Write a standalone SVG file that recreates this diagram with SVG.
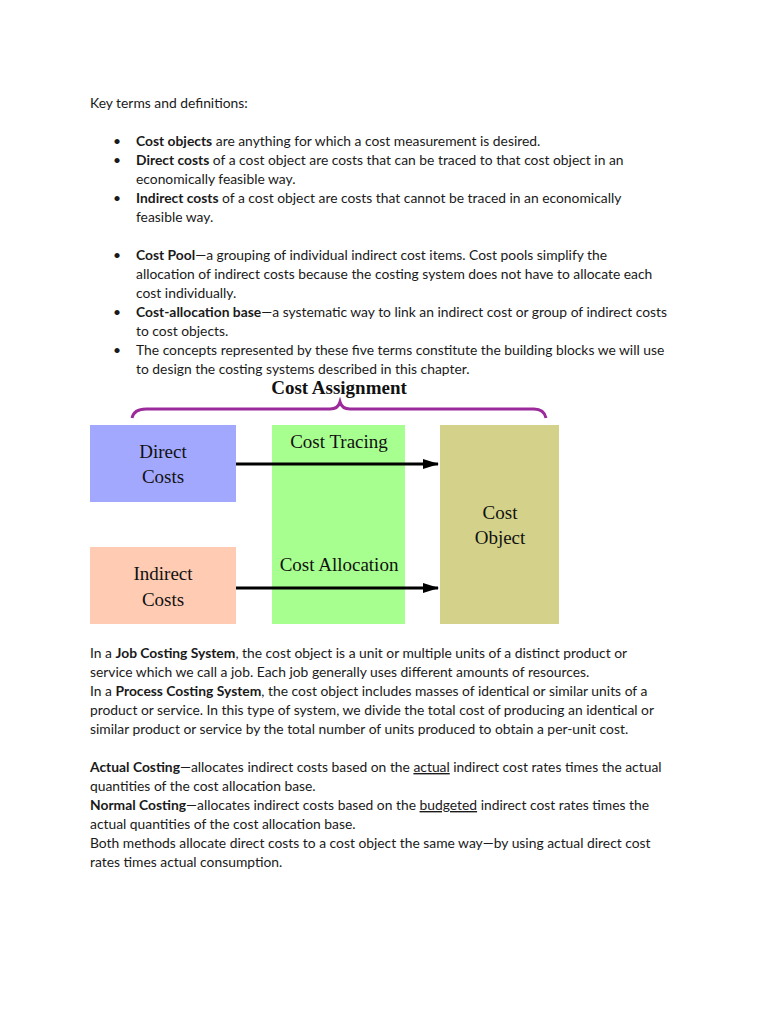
<svg xmlns="http://www.w3.org/2000/svg" width="768" height="1024" viewBox="0 0 768 1024" xml:space="preserve">
<style>
text{font-family:Lato,"Open Sans",sans-serif;font-size:13.85px;fill:#1a1a1a}
.b{font-weight:bold}
.d{font-family:"Liberation Serif",serif;font-size:19px;fill:#111}
.t{font-weight:bold}
.u{text-decoration:underline}
</style>
<defs><marker id="ah" markerWidth="16" markerHeight="10" refX="15" refY="5" orient="auto" markerUnits="userSpaceOnUse" viewBox="0 0 16 10"><path d="M0,0 L16,5 L0,10 Z" fill="#000"/></marker></defs>
<rect width="768" height="1024" fill="#fff"/>
<text x="90" y="108">Key terms and definitions:</text>
<g>
<text x="113" y="146">•</text><text x="136" y="146"><tspan class="b">Cost objects</tspan> are anything for which a cost measurement is desired.</text>
<text x="113" y="165">•</text><text x="136" y="165"><tspan class="b">Direct costs</tspan> of a cost object are costs that can be traced to that cost object in an</text>
<text x="136" y="184">economically feasible way.</text>
<text x="113" y="203">•</text><text x="136" y="203"><tspan class="b">Indirect costs</tspan> of a cost object are costs that cannot be traced in an economically</text>
<text x="136" y="222">feasible way.</text>
<text x="113" y="260">•</text><text x="136" y="260"><tspan class="b">Cost  Pool</tspan>—a grouping of individual indirect cost items.  Cost pools simplify the</text>
<text x="136" y="279">allocation of indirect costs because the costing system does not have to allocate each</text>
<text x="136" y="298">cost individually.</text>
<text x="113" y="317">•</text><text x="136" y="317"><tspan class="b">Cost-allocation base</tspan>—a systematic way to link an indirect cost or group of indirect costs</text>
<text x="136" y="336">to cost objects.</text>
<text x="113" y="355">•</text><text x="136" y="355">The concepts represented by these five terms constitute the building blocks we will use</text>
<text x="136" y="374">to design the costing systems described in this chapter.</text>
</g>
<text class="d t" x="339" y="394" text-anchor="middle">Cost Assignment</text>
<path d="M132,418 Q134,409 146,409 L330,409 Q338,409 340,402 Q342,409 350,409 L534,409 Q544,409 546,418" fill="none" stroke="#9b2a9b" stroke-width="3"/>
<g id="direct"><rect x="90" y="425" width="146" height="77" fill="#a3a8ff"/><text class="d" x="163" y="458" text-anchor="middle">Direct</text><text class="d" x="163" y="483" text-anchor="middle">Costs</text></g>
<g id="indirect"><rect x="90" y="547" width="146" height="77" fill="#ffcbb3"/><text class="d" x="163" y="580" text-anchor="middle">Indirect</text><text class="d" x="163" y="606" text-anchor="middle">Costs</text></g>
<g id="middle"><rect x="272" y="425" width="133" height="199" fill="#a7ff8f"/><text class="d" x="339" y="448" text-anchor="middle">Cost Tracing</text><text class="d" x="339" y="571" text-anchor="middle">Cost Allocation</text></g>
<g id="object"><rect x="440" y="425" width="119" height="199" fill="#d4d28a"/><text class="d" x="500" y="519" text-anchor="middle">Cost</text><text class="d" x="500" y="544" text-anchor="middle">Object</text></g>
<g id="connectors" stroke="#000" stroke-width="3">
<line x1="236" y1="464" x2="438" y2="464" marker-end="url(#ah)"/>
<line x1="236" y1="588" x2="438" y2="588" marker-end="url(#ah)"/>
</g>
<text x="90" y="658">In a <tspan class="b">Job Costing System</tspan>, the cost object is a unit or multiple units of a distinct product or</text>
<text x="90" y="677">service which we call a job.  Each job generally uses different amounts of resources.</text>
<text x="90" y="696">In a <tspan class="b">Process Costing System</tspan>, the cost object includes masses of identical or similar units of a</text>
<text x="90" y="715">product or service.  In this type of system, we divide the total cost of producing an identical or</text>
<text x="90" y="734">similar product or service by the total number of units produced to obtain a per-unit cost.</text>
<text x="90" y="772"><tspan class="b">Actual Costing</tspan>—allocates indirect costs based on the <tspan class="u">actual</tspan> indirect cost rates times the actual</text>
<text x="90" y="791">quantities of the cost allocation base.</text>
<text x="90" y="810"><tspan class="b">Normal Costing</tspan>—allocates indirect costs based on the <tspan class="u">budgeted</tspan> indirect cost rates times the</text>
<text x="90" y="829">actual quantities of the cost allocation base.</text>
<text x="90" y="848">Both methods allocate direct costs to a cost object the same way—by using actual direct cost</text>
<text x="90" y="867">rates times actual consumption.</text>
</svg>
